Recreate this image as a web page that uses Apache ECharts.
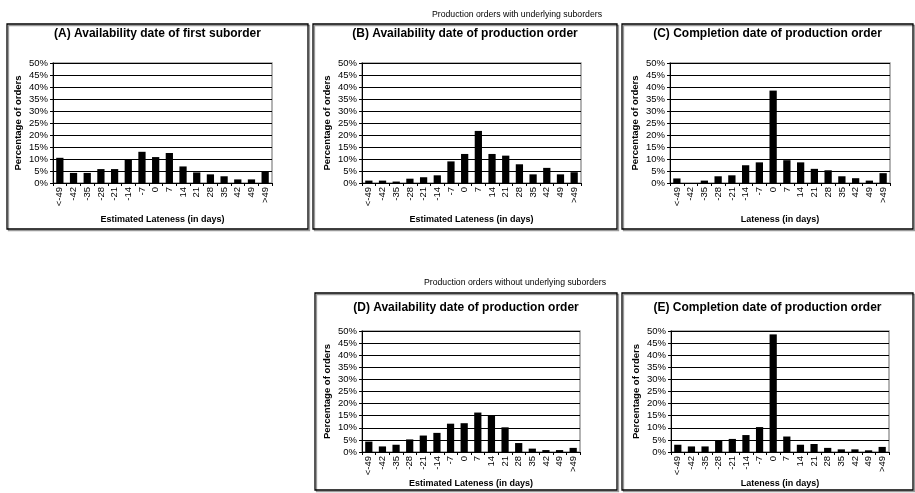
<!DOCTYPE html>
<html>
<head>
<meta charset="utf-8">
<script src="https://cdn.jsdelivr.net/npm/echarts@6/dist/echarts.min.js"></script>
<style>
  html, body { margin: 0; padding: 0; background: #fff; }
  #chart { width: 915px; height: 493px; }
</style>
</head>
<body>
<div id="chart"></div>
<script>
// lateness buckets (days)
const categories = ['<-49', '-42', '-35', '-28', '-21', '-14', '-7', '0', '7', '14', '21', '28', '35', '42', '49', '>49'];

// percentage of orders per bucket
const availFirstSuborder = [10.5, 4.2, 4.2, 5.8, 5.8, 10.0, 13.0, 10.8, 12.5, 6.9, 4.4, 3.6, 2.8, 1.5, 1.5, 4.6];
const availProdOrderWith = [1.0, 1.0, 0.6, 1.8, 2.4, 3.2, 9.0, 12.1, 21.7, 12.1, 11.4, 7.8, 3.6, 6.3, 3.6, 4.5];
const complProdOrderWith = [1.9, 0, 1.0, 2.8, 3.2, 7.4, 8.6, 38.5, 9.5, 8.6, 5.9, 5.3, 2.8, 2.0, 1.0, 4.1];
const availProdOrderWithout = [4.3, 2.3, 3.0, 5.2, 6.8, 7.9, 11.7, 11.9, 16.3, 15.0, 10.2, 3.7, 1.4, 0.8, 0.8, 1.7];
const complProdOrderWithout = [3.0, 2.3, 2.3, 4.8, 5.4, 7.0, 10.3, 48.6, 6.4, 3.0, 3.3, 1.7, 1.1, 1.1, 0.7, 2.1];

const panelTitles = [
  '(A) Availability date of first suborder',
  '(B) Availability date of production order',
  '(C) Completion date of production order',
  '(D) Availability date of production order',
  '(E) Completion date of production order'
];
const xNames = [
  'Estimated Lateness (in days)',
  'Estimated Lateness (in days)',
  'Lateness (in days)',
  'Estimated Lateness (in days)',
  'Lateness (in days)'
];
const groupTitles = ['Production orders with underlying suborders', 'Production orders without underlying suborders'];

const seriesData = [availFirstSuborder, availProdOrderWith, complProdOrderWith, availProdOrderWithout, complProdOrderWithout];

// layout: frame box and plot area per panel
const panels = [
  { box: [7, 24, 301, 205], plot: [53, 63, 219, 120], titleY: 28, nameGap: 32 },
  { box: [313, 24, 304, 205], plot: [362, 63, 219, 120], titleY: 28, nameGap: 32 },
  { box: [622, 24, 291, 205], plot: [670, 63, 220, 120], titleY: 28, nameGap: 32 },
  { box: [315, 293, 302, 197], plot: [362, 331, 218, 121], titleY: 302, nameGap: 23 },
  { box: [622, 293, 291, 197], plot: [671, 331, 218, 121], titleY: 302, nameGap: 23 }
];

const FONT = 'Liberation Sans, Arial, sans-serif';

const grids = [], xAxes = [], yAxes = [], series = [], titles = [], graphics = [];

panels.forEach((p, i) => {
  grids.push({
    left: p.plot[0], top: p.plot[1], width: p.plot[2], height: p.plot[3],
    show: true, borderColor: '#9a9a9a', borderWidth: 1.5, backgroundColor: 'transparent'
  });
  xAxes.push({
    type: 'category', gridIndex: i, data: categories,
    name: xNames[i], nameLocation: 'middle', nameGap: p.nameGap,
    nameTextStyle: { fontFamily: FONT, fontSize: 9, fontWeight: 'bold', color: '#000' },
    axisLine: { lineStyle: { color: '#000', width: 1 } },
    axisTick: { show: true, length: 3, lineStyle: { color: '#000' } },
    axisLabel: { rotate: 90, interval: 0, margin: 4, fontFamily: FONT, fontSize: 9.5, color: '#000' }
  });
  yAxes.push({
    type: 'value', gridIndex: i, min: 0, max: 50, interval: 5,
    name: 'Percentage of orders', nameLocation: 'middle', nameRotate: 90, nameGap: 30,
    nameTextStyle: { fontFamily: FONT, fontSize: 9.5, fontWeight: 'bold', color: '#000' },
    axisLine: { show: true, lineStyle: { color: '#000', width: 1 } },
    axisTick: { show: true, length: 3, lineStyle: { color: '#000' } },
    axisLabel: { formatter: '{value}%', margin: 5, fontFamily: FONT, fontSize: 9.5, color: '#000' },
    splitLine: { show: true, lineStyle: { color: '#000', width: 1 } }
  });
  series.push({
    type: 'bar', xAxisIndex: i, yAxisIndex: i, data: seriesData[i],
    barWidth: '53%', itemStyle: { color: '#000' }, silent: true, animation: false
  });
  titles.push({
    text: panelTitles[i], left: p.box[0] + p.box[2] / 2, top: p.titleY, textAlign: 'center', padding: 0,
    textStyle: { fontFamily: FONT, fontSize: 12, fontWeight: 'bold', color: '#000' }
  });
  graphics.push({
    type: 'rect', silent: true,
    shape: { x: p.box[0], y: p.box[1], width: p.box[2], height: p.box[3] },
    style: { fill: null, stroke: '#000', lineWidth: 1.3, shadowColor: '#999', shadowOffsetX: 1.5, shadowOffsetY: 1.5, shadowBlur: 0 }
  });
});

titles.push({
  text: groupTitles[0], left: 517, top: 10, textAlign: 'center', padding: 0,
  textStyle: { fontFamily: FONT, fontSize: 8.7, fontWeight: 'normal', color: '#000' }
});
titles.push({
  text: groupTitles[1], left: 515, top: 278, textAlign: 'center', padding: 0,
  textStyle: { fontFamily: FONT, fontSize: 8.7, fontWeight: 'normal', color: '#000' }
});

const chart = echarts.init(document.getElementById('chart'));
chart.setOption({
  animation: false,
  backgroundColor: '#fff',
  title: titles,
  grid: grids,
  xAxis: xAxes,
  yAxis: yAxes,
  series: series,
  graphic: graphics
});
</script>
</body>
</html>
